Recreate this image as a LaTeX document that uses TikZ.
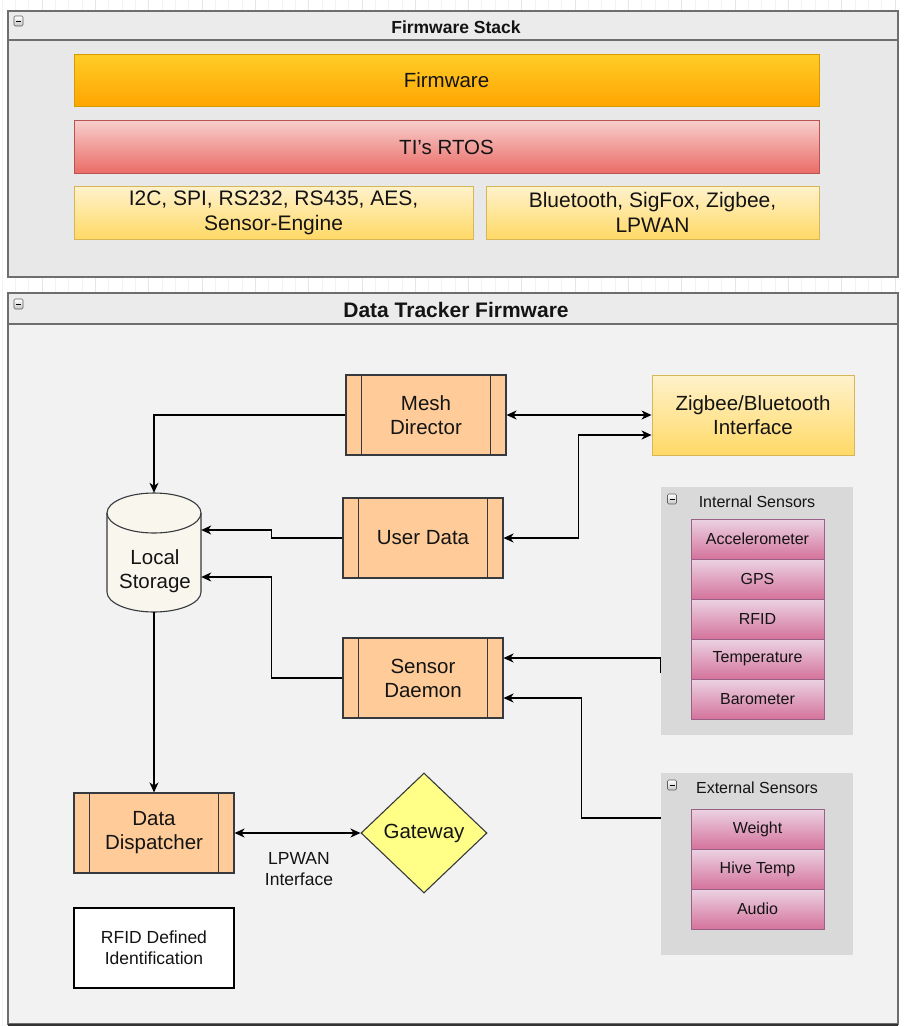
\documentclass[tikz,border=0pt]{standalone}
\usepackage{fontspec}
\setmainfont{Liberation Sans}
\usetikzlibrary{arrows.meta,shapes.geometric}

\definecolor{panelline}{HTML}{6E6E6E}
\definecolor{panelhead}{HTML}{EBEBEB}
\definecolor{stackbody}{HTML}{E8E8E8}
\definecolor{trackbody}{HTML}{F2F2F2}
\definecolor{orangeTop}{HTML}{FFCD28}
\definecolor{orangeBot}{HTML}{FFA500}
\definecolor{orangeLine}{HTML}{D79B00}
\definecolor{redTop}{HTML}{F8CECC}
\definecolor{redBot}{HTML}{EA6B66}
\definecolor{redLine}{HTML}{B85450}
\definecolor{yelTop}{HTML}{FFF2CC}
\definecolor{yelBot}{HTML}{FFD966}
\definecolor{yelLine}{HTML}{D6B656}
\definecolor{procFill}{HTML}{FFCC99}
\definecolor{darkLine}{HTML}{36393D}
\definecolor{storeFill}{HTML}{F9F7ED}
\definecolor{gateFill}{HTML}{FFFF88}
\definecolor{groupFill}{HTML}{D9D9D9}
\definecolor{pinkTop}{HTML}{EBD3E2}
\definecolor{pinkBot}{HTML}{D5739D}
\definecolor{pinkLine}{HTML}{996185}
\definecolor{txt}{HTML}{141414}
\definecolor{gridMinor}{HTML}{F3F3F3}
\definecolor{gridMajor}{HTML}{E6E6E6}

\tikzset{
  big/.style={font=\fontsize{20.5}{24}\selectfont},
  mid/.style={font=\fontsize{21}{25}\selectfont},
  small/.style={font=\fontsize{16}{20}\selectfont},
  note/.style={font=\fontsize{17.5}{21}\selectfont},
  panel/.style={draw=panelline, line width=1.3pt},
  stackbar/.style={rectangle, inner sep=0pt, line width=0.9pt, text=txt, align=center},
  orangebar/.style={stackbar, top color=orangeTop, bottom color=orangeBot, draw=orangeLine},
  redbar/.style={stackbar, top color=redTop, bottom color=redBot, draw=redLine},
  yelbar/.style={stackbar, top color=yelTop, bottom color=yelBot, draw=yelLine},
  procbox/.style={rectangle, inner sep=0pt, minimum width=160pt, minimum height=80pt,
    fill=procFill, draw=darkLine, line width=1.1pt, big, text=txt, align=center},
  sensor/.style={rectangle, inner sep=0pt, minimum width=133pt, minimum height=40pt,
    top color=pinkTop, bottom color=pinkBot, draw=pinkLine, line width=0.9pt, small, text=txt},
  group/.style={rectangle, inner sep=0pt, fill=groupFill, draw=none},
  conn/.style={line width=1.3pt, black},
  tip/.style={conn, -{Stealth[length=10pt,width=9pt,inset=3pt]}},
  tips/.style={conn, {Stealth[length=10pt,width=9pt,inset=3pt]}-{Stealth[length=10pt,width=9pt,inset=3pt]}},
  minusicon/.style={rectangle, rounded corners=1.2pt, minimum width=9pt, minimum height=10pt,
    inner sep=0pt, top color=white, bottom color=gray!45, draw=gray!75!black, line width=0.6pt},
}

\begin{document}
\begin{tikzpicture}[x=1pt, y=1pt]
  \useasboundingbox (0,0) rectangle (906,-1026);
  \fill[white] (0,0) rectangle (906,-1026);

  % faint background grid of the canvas
  \foreach \i in {0,...,68}{
    \pgfmathtruncatemacro{\major}{mod(\i,4)==3 ? 1 : 0}
    \ifnum\major=1
      \draw[gridMajor, line width=0.8pt] ({2+13.33*\i},0) -- ({2+13.33*\i},-1026);
    \else
      \draw[gridMinor, line width=0.8pt] ({2+13.33*\i},0) -- ({2+13.33*\i},-1026);
    \fi
  }

  % ---------- Firmware Stack panel ----------
  \fill[stackbody] (8,-40) rectangle (898,-277);
  \fill[panelhead] (8,-11) rectangle (898,-40);
  \draw[panel] (8,-11) rectangle (898,-277);
  \draw[panel] (8,-40) -- (898,-40);
  \node[minusicon] (stackicon) at (18.5,-21) {};
  \draw[line width=1pt] ([xshift=-2.5pt]stackicon.center) -- ([xshift=2.5pt]stackicon.center);
  \node[font=\bfseries\fontsize{17.5}{21}\selectfont, text=txt] (stacktitle) at (456,-27) {Firmware Stack};

  \node[orangebar, big, minimum width=745pt, minimum height=52pt] (fw) at (446.5,-80) {Firmware};
  \node[redbar, big, minimum width=745pt, minimum height=53pt] (rtos) at (446.5,-147) {TI's RTOS};
  \node[yelbar, mid, minimum width=399pt, minimum height=53pt] (bus) at (273.5,-212.5)
    {I2C, SPI, RS232, RS435, AES,\\Sensor-Engine};
  \node[yelbar, mid, minimum width=333pt, minimum height=53pt] (radio) at (652.5,-212.5)
    {Bluetooth, SigFox, Zigbee,\\LPWAN};

  % ---------- Data Tracker Firmware panel ----------
  \fill[trackbody] (8,-324) rectangle (898,-1024);
  \fill[panelhead] (8,-293) rectangle (898,-324);
  \draw[panel] (8,-293) rectangle (898,-1024);
  \draw[panel] (8,-324) -- (898,-324);
  \draw[line width=2pt, black!80] (8,-1024.5) -- (898,-1024.5);
  \node[minusicon] (trackicon) at (18.5,-304) {};
  \draw[line width=1pt] ([xshift=-2.5pt]trackicon.center) -- ([xshift=2.5pt]trackicon.center);
  \node[font=\bfseries\fontsize{21}{25}\selectfont, text=txt] (tracktitle) at (456,-310) {Data Tracker Firmware};

  % processes
  \node[procbox] (md) at (426,-415) {Mesh\\Director};
  \node[procbox] (ud) at (423,-538) {User Data};
  \node[procbox] (sd) at (423,-678) {Sensor\\Daemon};
  \node[procbox] (dd) at (154,-833) {Data\\Dispatcher};
  \foreach \n in {md,ud,sd,dd}{
    \draw[darkLine, line width=1.1pt] ([xshift=16pt]\n.north west) -- ([xshift=16pt]\n.south west);
    \draw[darkLine, line width=1.1pt] ([xshift=-16pt]\n.north east) -- ([xshift=-16pt]\n.south east);
  }

  % local storage cylinder
  \node[inner sep=0pt, minimum width=94pt, minimum height=119pt] (ls) at (154,-552.5) {};
  \draw[fill=storeFill, draw=darkLine, line width=1.1pt]
    (107,-513) -- (107,-592) arc[start angle=180, end angle=360, x radius=47, y radius=20]
    -- (201,-513) arc[start angle=0, end angle=180, x radius=47, y radius=20] -- cycle;
  \draw[darkLine, line width=1.1pt] (107,-513) arc[start angle=180, end angle=360, x radius=47, y radius=20];
  \node[big, text=txt, align=center] (lstext) at (155,-571) {Local\\Storage};

  % interfaces
  \node[yelbar, big, minimum width=202pt, minimum height=80pt] (zb) at (753,-415) {Zigbee/Bluetooth\\Interface};
  \node[diamond, draw=darkLine, fill=gateFill, line width=1.1pt, inner sep=0pt,
        minimum width=126pt, minimum height=120pt, big, text=txt] (gw) at (424,-833) {Gateway};
  \node[note, text=txt, align=center] (lpwan) at (299,-869) {LPWAN\\Interface};
  \node[draw=black, fill=white, line width=1.1pt, minimum width=160pt, minimum height=80pt,
        inner sep=0pt, note, text=txt, align=center] (rfid) at (154,-948) {RFID Defined\\Identification};

  % internal sensors group
  \node[group, minimum width=192pt, minimum height=248pt] (ints) at (757,-611) {};
  \node[minusicon] (intsicon) at (672,-499) {};
  \draw[line width=1pt] ([xshift=-2.5pt]intsicon.center) -- ([xshift=2.5pt]intsicon.center);
  \node[small, text=txt] (intstitle) at (757,-502) {Internal Sensors};
  \node[sensor] (acc) at (757.5,-539) {Accelerometer};
  \node[sensor] (gps) at (757.5,-579) {GPS};
  \node[sensor] (rfids) at (757.5,-619) {RFID};
  \node[sensor] (temp) at (757.5,-659) {Temperature};
  \node[sensor] (baro) at (757.5,-699) {Barometer};

  % external sensors group
  \node[group, minimum width=192pt, minimum height=182pt] (exts) at (757,-864) {};
  \node[minusicon] (extsicon) at (672,-785) {};
  \draw[line width=1pt] ([xshift=-2.5pt]extsicon.center) -- ([xshift=2.5pt]extsicon.center);
  \node[small, text=txt] (extstitle) at (757,-788) {External Sensors};
  \node[sensor] (wgt) at (757.5,-829) {Weight};
  \node[sensor] (hive) at (757.5,-869) {Hive Temp};
  \node[sensor] (aud) at (757.5,-909) {Audio};

  % connectors
  \draw[tip] (md.west) -| (ls.north);
  \draw[tips] (md.east) -- (zb.west);
  \draw[tips] (ud.east) -- ++(75,0) |- ([yshift=-20pt]zb.west);
  \draw[tip] (ud.west) -- ++(-71,0) |- ([yshift=22.5pt]ls.east);
  \draw[tip] (sd.west) -- ++(-71,0) |- ([yshift=-24.5pt]ls.east);
  \draw[tip] ([yshift=-62pt]ints.west) -- ([yshift=-47pt]ints.west) -- ([yshift=20pt]sd.east);
  \draw[tip] ([yshift=46pt]exts.west) -- ++(-79,0) |- ([yshift=-20pt]sd.east);
  \draw[tip] (ls.south) -- (dd.north);
  \draw[tips] (dd.east) -- (gw.west);
\end{tikzpicture}
\end{document}
